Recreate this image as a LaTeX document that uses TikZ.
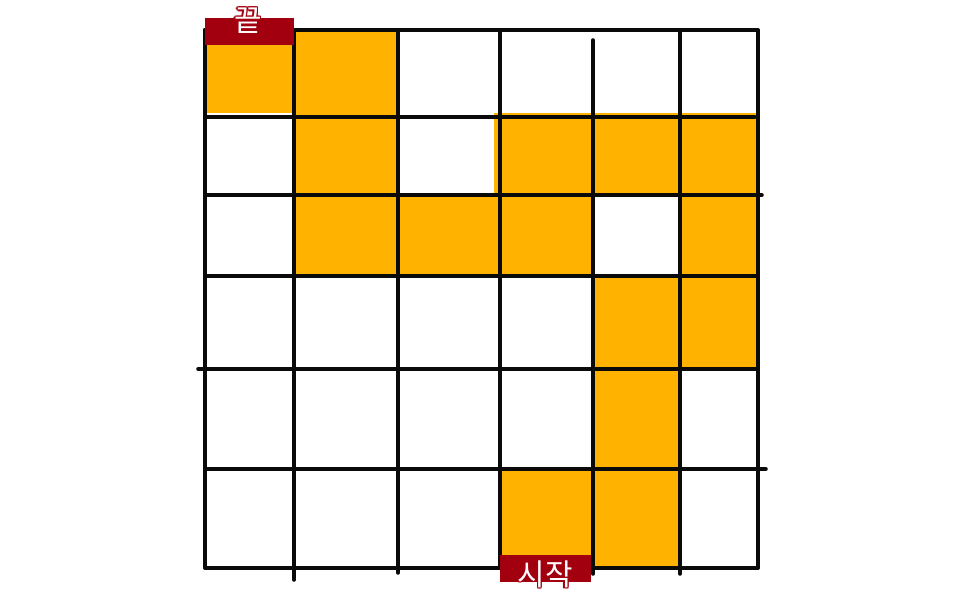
\documentclass[tikz,border=0pt]{standalone}
\usepackage{fontspec}
\newfontfamily\krfont{Noto Sans CJK KR}
\definecolor{pathOrange}{HTML}{FFB300}
\definecolor{tagRed}{HTML}{A3000F}
\definecolor{lineDark}{HTML}{0A0A0A}
% white letters with a thin red rim
\newcommand\rimcopy[3]{\rlap{\hspace*{#1}\raisebox{#2}{\textcolor{tagRed}{#3}}}}
\newcommand\rimtext[1]{%
  \rimcopy{-.8pt}{0pt}{#1}\rimcopy{.8pt}{0pt}{#1}%
  \rimcopy{0pt}{.8pt}{#1}\rimcopy{0pt}{-.8pt}{#1}%
  \rimcopy{-.6pt}{.6pt}{#1}\rimcopy{.6pt}{.6pt}{#1}%
  \rimcopy{-.6pt}{-.6pt}{#1}\rimcopy{.6pt}{-.6pt}{#1}%
  \textcolor{white}{#1}}

\begin{document}
\begin{tikzpicture}[x=0.02cm, y=-0.02cm,
    cell/.style={fill=pathOrange},
    gridline/.style={draw=lineDark, line width=2pt, line cap=round},
    tag/.style={fill=tagRed, inner sep=0pt, minimum width=#1*0.02cm,
                minimum height=27*0.02cm},
    tagtext/.style={font=\krfont\fontsize{17}{17}\selectfont, inner sep=0pt},
  ]
    \useasboundingbox[fill=white] (0,0) rectangle (953,598);

    % path cells
    \foreach \xa/\ya/\xb/\yb in {203/28/294/113, 294/28/398/117,
        294/117/398/276, 494/113/758/195, 398/195/593/276,
        680/195/758/276, 593/276/758/369, 593/369/680/469,
        500/469/680/568}
      \fill[cell] (\xa,\ya) rectangle (\xb,\yb);

    % grid
    \foreach \x/\ya/\yb in {205/30/568, 294/30/580, 398/30/573,
        500/30/568, 593/40/574, 680/30/574, 758/30/568}
      \draw[gridline] (\x,\ya) -- (\x,\yb);
    \foreach \y/\xa/\xb in {30/205/758, 117/205/755, 195/205/762,
        276/205/758, 369/198/758, 469/205/766, 568/205/758}
      \draw[gridline] (\xa,\y) -- (\xb,\y);

    % labels
    \node[tag=89] (endbox) at (249.5,32) {};
    \node[tagtext] (end) at (248,21) {\rimtext{끝}};
    \node[tag=91] (startbox) at (545.5,568.5) {};
    \node[tagtext] (start) at (545,574) {\rimtext{시작}};
  \end{tikzpicture}
\end{document}
